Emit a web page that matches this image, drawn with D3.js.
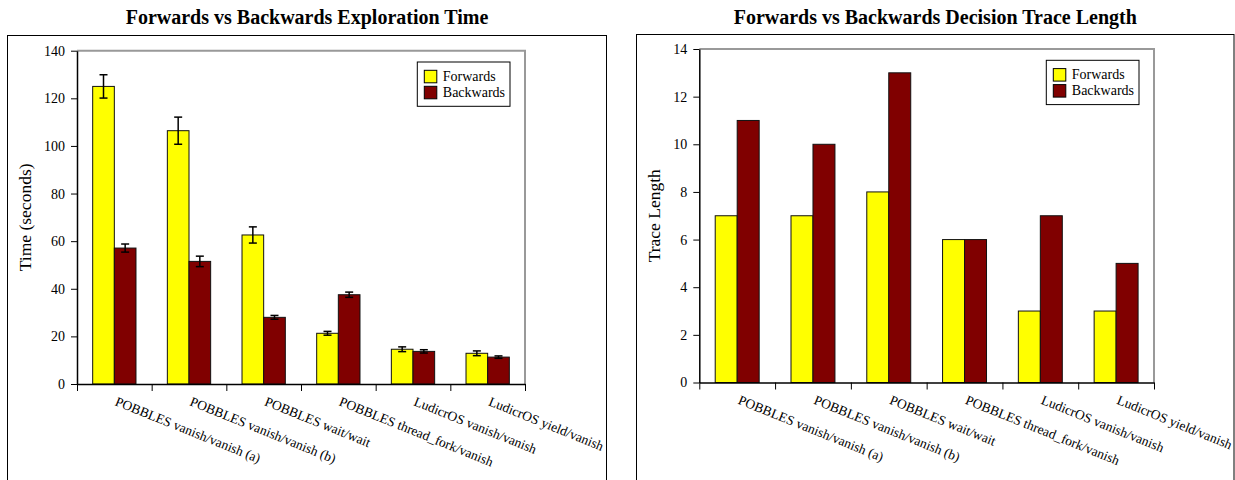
<!DOCTYPE html>
<html>
<head>
<meta charset="utf-8">
<script src="https://cdn.jsdelivr.net/npm/d3@7"></script>
<style>
  body { margin: 0; background: #fff; }
  svg { display: block; font-family: "Liberation Serif", "Times New Roman", serif; }
</style>
</head>
<body>
<svg id="chart" width="1235" height="480"></svg>
<script>
const categories = [
    'POBBLES vanish/vanish (a)',
    'POBBLES vanish/vanish (b)',
    'POBBLES wait/wait',
    'POBBLES thread_fork/vanish',
    'LudicrOS vanish/vanish',
    'LudicrOS yield/vanish'
];
const seriesNames = ['Forwards', 'Backwards'];
const seriesColors = ['#ffff00', '#800000'];

// exploration time (seconds), with error bar half-lengths
const timeForwards = [125.0, 106.4, 62.6, 21.3, 14.6, 12.9];
const timeForwardsErr = [4.9, 5.7, 3.4, 0.8, 1.0, 1.0];
const timeBackwards = [57.1, 51.5, 28.0, 37.5, 13.7, 11.3];
const timeBackwardsErr = [1.7, 2.2, 0.8, 1.1, 0.7, 0.5];
const timeTicks = [0, 20, 40, 60, 80, 100, 120, 140];

// decision trace length
const traceForwards = [7, 7, 8, 6, 3, 3];
const traceBackwards = [11, 10, 13, 6, 7, 5];
const traceTicks = [0, 2, 4, 6, 8, 10, 12, 14];

const svg = d3.select('#chart');

function drawChart(o) {
    const g = svg.append('g');

    // outer frame (runs off the bottom of the picture)
    g.append('rect')
        .attr('x', o.box[0]).attr('y', o.box[1])
        .attr('width', o.box[2]).attr('height', 500)
        .attr('fill', 'none').attr('stroke', '#000').attr('stroke-width', 1);

    g.append('text')
        .attr('x', o.box[0] + o.box[2] / 2).attr('y', 24)
        .attr('text-anchor', 'middle')
        .attr('font-size', 20).attr('font-weight', 'bold')
        .text(o.title);

    const y = d3.scaleLinear().domain([0, o.max]).range([o.y0, o.y1]);
    const xi = d3.scaleLinear().domain([0, categories.length]).range([o.x0, o.x1]);
    const x = d3.scaleBand().domain(categories).range([o.x0, o.x1]);
    const bw = x.bandwidth();
    const xs = d3.scaleBand().domain(seriesNames).range([bw * 0.21, bw * 0.79]);

    // plot frame top/right in grey
    g.append('path')
        .attr('d', `M${o.x0},${o.y1}H${o.x1}V${o.y0}`)
        .attr('fill', 'none').attr('stroke', '#999').attr('stroke-width', 2);

    const rows = categories.map((c, i) => ({
        cat: c,
        vals: o.series.map((s, j) => ({
            name: seriesNames[j], v: s[i], e: o.errs ? o.errs[j][i] : null, color: seriesColors[j]
        }))
    }));

    const grp = g.selectAll('g.cat').data(rows).enter().append('g')
        .attr('transform', d => `translate(${x(d.cat)},0)`);

    grp.selectAll('rect').data(d => d.vals).enter().append('rect')
        .attr('x', d => xs(d.name))
        .attr('y', d => y(d.v))
        .attr('width', xs.bandwidth())
        .attr('height', d => o.y0 - y(d.v))
        .attr('fill', d => d.color)
        .attr('stroke', '#111').attr('stroke-width', 1);

    if (o.errs) {
        const eb = grp.selectAll('g.err').data(d => d.vals).enter().append('g')
            .attr('stroke', '#000').attr('stroke-width', 1.5);
        const cx = d => xs(d.name) + xs.bandwidth() / 2;
        eb.append('line')
            .attr('x1', cx).attr('x2', cx)
            .attr('y1', d => y(d.v + d.e)).attr('y2', d => y(d.v - d.e));
        eb.append('line')
            .attr('x1', d => cx(d) - 4).attr('x2', d => cx(d) + 4)
            .attr('y1', d => y(d.v + d.e)).attr('y2', d => y(d.v + d.e));
        eb.append('line')
            .attr('x1', d => cx(d) - 4).attr('x2', d => cx(d) + 4)
            .attr('y1', d => y(d.v - d.e)).attr('y2', d => y(d.v - d.e));
    }

    // y axis
    const ya = g.append('g')
        .attr('transform', `translate(${o.x0},0)`)
        .call(d3.axisLeft(y).tickValues(o.ticks).tickSize(6).tickPadding(6).tickSizeOuter(0));
    ya.attr('font-family', null);
    ya.select('.domain').attr('stroke-width', 1.5);
    ya.selectAll('text').attr('font-size', 14).attr('fill', '#000');

    // x axis with ticks at band edges
    const xa = g.append('g')
        .attr('transform', `translate(0,${o.y0})`)
        .call(d3.axisBottom(xi).tickValues(d3.range(categories.length + 1)).tickFormat('').tickSize(7).tickSizeOuter(0));
    xa.select('.domain').attr('stroke-width', 1.5);

    g.selectAll('text.cat').data(categories).enter().append('text')
        .attr('transform', d => `translate(${x(d) + bw / 2},${o.y0 + 21}) rotate(22)`)
        .attr('font-size', 13.5)
        .text(d => d);

    g.append('text')
        .attr('transform', `translate(${o.ylabX},${(o.y0 + o.y1) / 2}) rotate(-90)`)
        .attr('text-anchor', 'middle')
        .attr('font-size', 17.5)
        .text(o.ylabel);

    // legend
    const lx = o.x1 - 15 - 92.7, ly = o.y1 + 11.3;
    const lg = g.append('g').attr('transform', `translate(${lx},${ly})`);
    lg.append('rect').attr('width', 92.7).attr('height', 44.3)
        .attr('fill', '#fff').attr('stroke', '#000').attr('stroke-width', 1);
    const li = lg.selectAll('g').data(seriesNames).enter().append('g')
        .attr('transform', (d, i) => `translate(7,${8.3 + i * 16})`);
    li.append('rect').attr('width', 12.5).attr('height', 12.5)
        .attr('fill', (d, i) => seriesColors[i]).attr('stroke', '#000').attr('stroke-width', 1);
    li.append('text').attr('x', 18.5).attr('y', 10.8)
        .attr('font-size', 14).text(d => d);
}

drawChart({
    title: 'Forwards vs Backwards Exploration Time',
    box: [7.5, 35.5, 599],
    x0: 77, x1: 525, y0: 384, y1: 50.7,
    max: 140, ticks: timeTicks,
    series: [timeForwards, timeBackwards],
    errs: [timeForwardsErr, timeBackwardsErr],
    ylabel: 'Time (seconds)', ylabX: 31
});

drawChart({
    title: 'Forwards vs Backwards Decision Trace Length',
    box: [636.5, 34.5, 597.5],
    x0: 699.3, x1: 1154, y0: 382.5, y1: 49,
    max: 14, ticks: traceTicks,
    series: [traceForwards, traceBackwards],
    errs: null,
    ylabel: 'Trace Length', ylabX: 660
});
</script>
</body>
</html>
